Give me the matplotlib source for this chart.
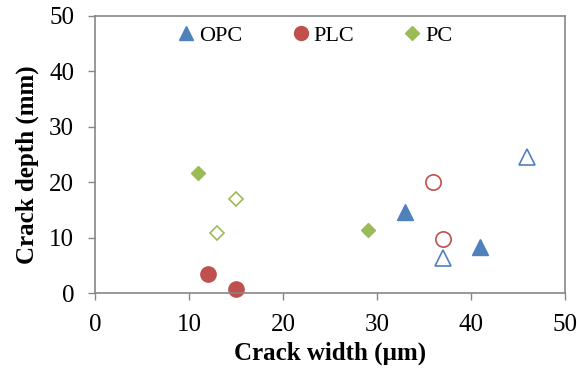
import matplotlib
matplotlib.use("Agg")
import matplotlib.pyplot as plt
from matplotlib.lines import Line2D

plt.rcParams['font.family'] = ['Liberation Serif', 'DejaVu Serif']

# Data
opc_filled_x = [33, 41]
opc_filled_y = [14.7, 8.3]
opc_open_x = [37, 46]
opc_open_y = [6.4, 24.5]
plc_filled_x = [12, 15]
plc_filled_y = [3.4, 0.8]
plc_open_x = [36, 37]
plc_open_y = [20.1, 9.7]
pc_filled_x = [11, 29]
pc_filled_y = [21.7, 11.4]
pc_open_x = [15, 13]
pc_open_y = [17.0, 10.8]

series_labels = ["OPC", "PLC", "PC"]
xlabel = "Crack width (µm)"
ylabel = "Crack depth (mm)"
ticks = [0, 10, 20, 30, 40, 50]

blue = "#4F81BD"
red = "#C0504D"
green = "#9BBB59"
frame = "#868686"

fig = plt.figure(figsize=(5.77, 3.72), dpi=100)
ax = fig.add_axes([95/577, 79/372, 470/577, 277/372])

ax.plot(opc_filled_x, opc_filled_y, linestyle='none', marker='^', markersize=11.5,
        color=blue, markeredgecolor=blue, clip_on=False)
ax.plot(opc_open_x, opc_open_y, linestyle='none', marker='^', markersize=11.5,
        markerfacecolor='white', markeredgecolor=blue, markeredgewidth=1.2, clip_on=False)
ax.plot(plc_filled_x, plc_filled_y, linestyle='none', marker='o', markersize=11,
        color=red, markeredgecolor=red, clip_on=False)
ax.plot(plc_open_x, plc_open_y, linestyle='none', marker='o', markersize=11,
        markerfacecolor='white', markeredgecolor=red, markeredgewidth=1.2, clip_on=False)
ax.plot(pc_filled_x, pc_filled_y, linestyle='none', marker='D', markersize=7.5,
        color=green, markeredgecolor=green, clip_on=False)
ax.plot(pc_open_x, pc_open_y, linestyle='none', marker='D', markersize=7.5,
        markerfacecolor='white', markeredgecolor=green, markeredgewidth=1.2, clip_on=False)

ax.set_xlim(0, 50)
ax.set_ylim(0, 50)
ax.set_xticks(ticks)
ax.set_yticks(ticks)
ax.tick_params(direction='out', length=5, width=1, color=frame, labelsize=18, pad=10)
for s in ax.spines.values():
    s.set_color(frame)
    s.set_linewidth(1.2)

ax.set_xlabel(xlabel, fontsize=18, fontweight='bold', va='center', ha='center')
ax.set_ylabel(ylabel, fontsize=18, fontweight='bold', va='center', ha='center')
ax.xaxis.set_label_coords(0.5, (293 - 353) / 277)
ax.yaxis.set_label_coords((27 - 95) / 470, (293 - 165) / 277)

handles = [
    Line2D([], [], linestyle='none', marker='^', markersize=10, color=blue),
    Line2D([], [], linestyle='none', marker='o', markersize=10, color=red),
    Line2D([], [], linestyle='none', marker='D', markersize=7, color=green),
]
ax.legend(handles, series_labels, loc='center', bbox_to_anchor=(314/577, 1 - 36/372),
          bbox_transform=fig.transFigure, ncol=3, frameon=False, fontsize=16,
          handletextpad=0.1, columnspacing=2.1, handlelength=1.0)

fig.savefig("out.png", dpi=100)
